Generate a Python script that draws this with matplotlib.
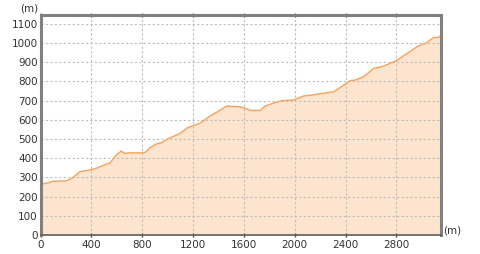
import numpy as np
import matplotlib.pyplot as plt

# elevation profile (distance m, elevation m)
dist = [0, 50, 100, 200, 246, 311, 400, 450, 500, 547, 587, 634, 665, 700, 800, 823,
        862, 915, 950, 1000, 1100, 1151, 1256, 1334, 1387, 1466, 1571, 1610, 1650,
        1728, 1768, 1833, 1899, 1990, 2069, 2146, 2200, 2306, 2358, 2437, 2476, 2542,
        2621, 2687, 2752, 2805, 2896, 2962, 3041, 3093, 3132, 3151]
elev = [265, 270, 280, 282, 295, 330, 340, 350, 365, 375, 410, 437, 425, 428, 428, 430,
        455, 475, 480, 500, 530, 557, 583, 620, 640, 672, 667, 661, 649,
        649, 672, 687, 700, 703, 724, 730, 736, 746, 769, 804, 807, 824,
        868, 877, 894, 911, 951, 981, 1003, 1029, 1029, 1042]
xticks = [0, 400, 800, 1200, 1600, 2000, 2400, 2800]
yticks = [0, 100, 200, 300, 400, 500, 600, 700, 800, 900, 1000, 1100]

fig = plt.figure(figsize=(4.8, 2.54), dpi=100)
ax = fig.add_axes([0.0844, 0.0748, 0.8344, 0.8662])

# grid below a slightly see-through fill, like the original
ax.grid(True, color='#bdbdbd', ls=(0, (2, 2)), lw=0.8, zorder=0)
ax.fill_between(dist, elev, 0, color='#fde0c6', alpha=0.85, zorder=1)
ax.plot(dist, elev, color='#f4a361', lw=1.0, zorder=2)

ax.set_xlim(0, 3151)
ax.set_ylim(0, 1146)
ax.set_xticks(xticks)
ax.set_yticks(yticks)

for s in ['left', 'top', 'right']:
    ax.spines[s].set_color('#808080')
    ax.spines[s].set_linewidth(2.2)
ax.spines['bottom'].set_color('#606060')
ax.spines['bottom'].set_linewidth(1.2)

ax.tick_params(axis='both', labelsize=7.5, colors='#333333', length=0, pad=2)
ax.tick_params(axis='x', top=True, length=3, direction='inout', color='#555555', width=1)

ax.text(-0.005, 1.005, '(m)', transform=ax.transAxes, ha='right', va='bottom',
        fontsize=7.5, color='#333333')
ax.text(1.005, 0.0, '(m)', transform=ax.transAxes, ha='left', va='bottom',
        fontsize=7.5, color='#333333')

fig.savefig('out.png', dpi=100)
